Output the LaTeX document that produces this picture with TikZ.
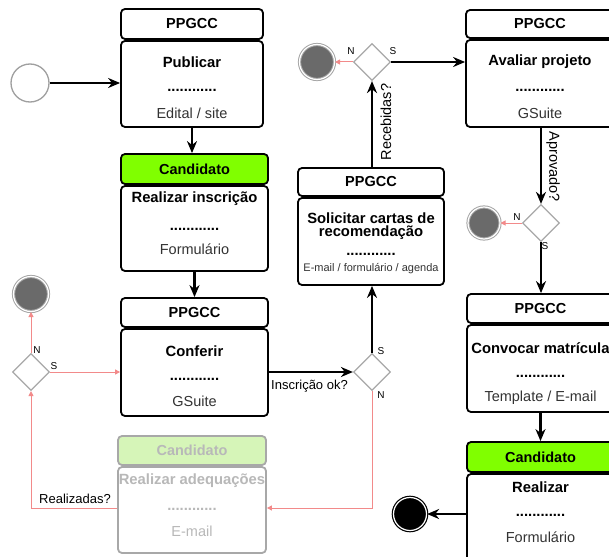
\documentclass[tikz,border=0pt]{standalone}
\usepackage{fontspec}
\setmainfont{Liberation Sans}
\usetikzlibrary{shapes.geometric,arrows.meta}
\definecolor{candgreen}{HTML}{80FF00}
\definecolor{fadegreen}{HTML}{D6F5B8}
\definecolor{redln}{HTML}{F28A8A}
\definecolor{fadetx}{HTML}{B8B8B8}
\definecolor{fadebd}{HTML}{A8A8A8}
\definecolor{endgray}{HTML}{6A6A6A}
\definecolor{tooltx}{HTML}{333333}
\newcommand\hdrf{\fontsize{14.5}{17}\selectfont\bfseries}
\newcommand\ttlf{\fontsize{14.8}{17}\selectfont\bfseries}
\newcommand\toolf{\fontsize{14.5}{17}\selectfont}
\newcommand\lblf{\fontsize{13}{15}\selectfont}
\newcommand\nsf{\fontsize{10}{12}\selectfont}
\newcommand\dotsline{............}
\begin{document}
\begin{tikzpicture}[x=1pt,y=-1pt,
  box/.style={draw=black, line width=1.8pt, rounded corners=4pt, fill=white, inner sep=0pt},
  fbox/.style={draw=fadebd, line width=1.8pt, rounded corners=4pt, fill=white, inner sep=0pt},
  txt/.style={inner sep=0pt, anchor=center},
  decis/.style={diamond, draw=fadebd, line width=1.2pt, fill=white, minimum width=37pt, minimum height=37pt, inner sep=0pt},
  endc/.style={circle, draw=gray!70, double=white, double distance=1.2pt, line width=1pt, fill=endgray, minimum size=35pt, inner sep=0pt},
  finc/.style={circle, draw=black, double=white, double distance=1.2pt, line width=1.2pt, fill=black, minimum size=33pt, inner sep=0pt},
  startc/.style={circle, draw=gray!75, line width=1.3pt, fill=white, minimum size=38pt, inner sep=0pt},
  flow/.style={line width=2.4pt, -{Stealth[length=12pt,width=10pt]}},
  rflow/.style={draw=redln, line width=1pt, -{Triangle[length=5pt,width=5pt]}},
  rline/.style={draw=redln, line width=1pt},
  ns/.style={inner sep=0pt, anchor=center, font=\nsf}
]
\useasboundingbox (0,0) rectangle (609,556);
\clip (0,0) rectangle (609,556);

% ---------- Box A: Publicar
\node[box, minimum width=142pt, minimum height=30pt] (Ah) at (192,24) {\hdrf PPGCC};
\node[box, minimum width=142pt, minimum height=86pt] (Ab) at (192,84) {};
\node[txt] (At) at (192,62) {\ttlf Publicar};
\node[txt] (Ad) at (192,90) {\ttlf\dotsline};
\node[txt, text=tooltx] (As) at (192,113) {\toolf Edital / site};

% ---------- Box B: Realizar inscricao
\node[box, fill=candgreen, minimum width=147pt, minimum height=30pt] (Bh) at (194.5,169) {\hdrf Candidato};
\node[box, minimum width=147pt, minimum height=85pt] (Bb) at (194.5,228.5) {};
\node[txt] (Bt) at (194.5,199) {\ttlf Realizar inscrição};
\node[txt] (Bd) at (194.5,229) {\ttlf\dotsline};
\node[txt, text=tooltx] (Bs) at (194.5,249) {\toolf Formulário};

% ---------- Box C: Conferir
\node[box, minimum width=147pt, minimum height=29pt] (Ch) at (194.5,312.5) {\hdrf PPGCC};
\node[box, minimum width=147pt, minimum height=87pt] (Cb) at (194.5,372.5) {};
\node[txt] (Ct) at (194.5,351) {\ttlf Conferir};
\node[txt] (Cd) at (194.5,379) {\ttlf\dotsline};
\node[txt, text=tooltx] (Cs) at (194.5,401) {\toolf GSuite};

% ---------- Box D: Realizar adequacoes (faded)
\node[fbox, fill=fadegreen, minimum width=148pt, minimum height=29pt] (Dh) at (192,450.5) {\hdrf\color{fadetx}Candidato};
\node[fbox, minimum width=148pt, minimum height=86pt] (Db) at (192,510) {};
\node[txt, text=fadetx] (Dt) at (192,481) {\ttlf Realizar adequações};
\node[txt, text=fadetx] (Dd) at (192,509) {\ttlf\dotsline};
\node[txt, text=fadetx] (Ds) at (192,531) {\toolf E-mail};

% ---------- Box E: Solicitar cartas
\node[box, minimum width=146pt, minimum height=28pt] (Eh) at (371,182) {\hdrf PPGCC};
\node[box, minimum width=146pt, minimum height=87pt] (Eb) at (371,241.5) {};
\node[txt] (Et1) at (371,218) {\ttlf Solicitar cartas de};
\node[txt] (Et2) at (371,233) {\ttlf recomendação};
\node[txt] (Ed) at (371,254) {\ttlf\dotsline};
\node[txt, text=tooltx] (Es) at (371,269) {\fontsize{11}{13}\selectfont E-mail / formulário / agenda};

% ---------- Box F: Avaliar projeto
\node[box, minimum width=148pt, minimum height=28pt] (Fh) at (540,24) {\hdrf PPGCC};
\node[box, minimum width=148pt, minimum height=87pt] (Fb) at (540,83.5) {};
\node[txt] (Ft) at (540,62) {\ttlf Avaliar projeto};
\node[txt] (Fd) at (540,90) {\ttlf\dotsline};
\node[txt, text=tooltx] (Fs) at (540,113) {\toolf GSuite};

% ---------- Box G: Convocar matricula
\node[box, minimum width=147pt, minimum height=29pt] (Gh) at (540.5,308.5) {\hdrf PPGCC};
\node[box, minimum width=147pt, minimum height=87pt] (Gb) at (540.5,368.5) {};
\node[txt] (Gt) at (540.5,348) {\ttlf Convocar matrícula};
\node[txt] (Gd) at (540.5,376) {\ttlf\dotsline};
\node[txt, text=tooltx] (Gs) at (540.5,398) {\toolf Template / E-mail};

% ---------- Box H: Realizar (Candidato)
\node[box, fill=candgreen, minimum width=147pt, minimum height=30pt] (Hh) at (540.5,457) {\hdrf Candidato};
\node[box, minimum width=147pt, minimum height=92pt] (Hb) at (540.5,520) {};
\node[txt] (Ht) at (540.5,487) {\ttlf Realizar};
\node[txt] (Hd) at (540.5,515) {\ttlf\dotsline};
\node[txt, text=tooltx] (Hs) at (540.5,537) {\toolf Formulário};

% ---------- decisions
\node[decis] (D1) at (31,372) {};
\node[decis] (D2) at (372,372) {};
\node[decis] (D3) at (372,62) {};
\node[decis] (D4) at (541,223) {};

% ---------- start / end
\node[startc] (start) at (30,83) {};
\node[endc] (E1) at (31,294) {};
\node[endc] (E2) at (317,62) {};
\node[endc, minimum size=32pt] (E3) at (484,223) {};
\node[finc] (fin) at (410,514) {};

% ---------- black flows
\draw[flow] (start.east) -- (start.east -| Ab.west);
\draw[flow] (Ab.south) -- (Ab.south |- Bh.north);
\draw[flow] (Bb.south) -- (Ch.north);
\draw[flow] (D2.west -| Cb.east) -- (D2.west);
\draw[flow] (D2.north) -- (D2.north |- Eb.south);
\draw[flow] (D3.south |- Eh.north) -- (D3.south);
\draw[flow] (D3.east) -- (D3.east -| Fb.west);
\draw[flow] (D4.north |- Fb.south) -- (D4.north);
\draw[flow] (D4.south) -- (D4.south |- Gh.north);
\draw[flow] (Gb.south) -- (Hh.north);
\draw[flow] (fin.east -| Hb.west) -- (fin.east);

% ---------- red flows
\coordinate (rc1) at (372,508);
\coordinate (rc2) at (31,508);
\draw[rflow] (D2.south) -- (rc1) -- (rc1 -| Db.east);
\draw[rflow] (rc2 -| Db.west) -- (rc2) -- (D1.south);
\draw[rflow] (D1.north) -- (E1.south);
\draw[rflow] (D1.east) -- (D1.east -| Cb.west);
\draw[rflow] (D3.west) -- (E2.east);
\draw[rflow] (D4.west) -- (E3.east);

% ---------- labels
\node[txt, anchor=west] (lInsc) at (271,386) {\lblf Inscrição ok?};
\node[txt] (lReal) at (75,499) {\lblf Realizadas?};
\node[txt, rotate=90] (lReceb) at (386,122) {\toolf Recebidas?};
\node[txt, rotate=-90] (lAprov) at (553,167) {\toolf Aprovado?};
\node[ns] (n3) at (351,51) {N};
\node[ns] (s3) at (393,51) {S};
\node[ns] (n4) at (517,217) {N};
\node[ns] (s4) at (545,246) {S};
\node[ns] (s2) at (381,351) {S};
\node[ns] (n2) at (381,395) {N};
\node[ns] (n1) at (37,350) {N};
\node[ns] (s1) at (54,366) {S};
\end{tikzpicture}
\end{document}
